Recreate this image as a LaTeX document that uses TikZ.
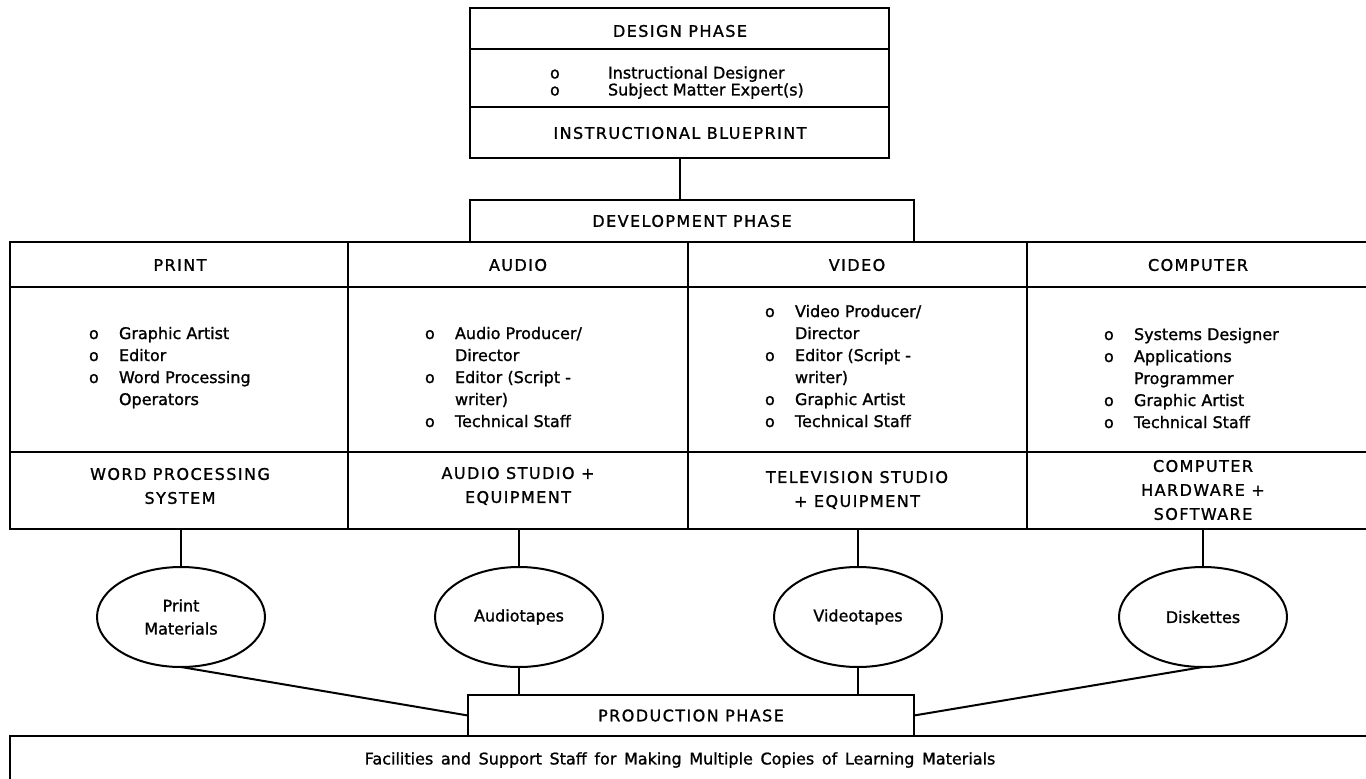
\documentclass[tikz,border=0pt]{standalone}
\usepackage{fontspec}
\setmainfont[FakeBold=1.2,AutoFakeBold=1.2]{DejaVu Sans}
\newfontfamily\capsfont[LetterSpace=9,FakeBold=1.2]{DejaVu Sans}
\newfontfamily\widefont[WordSpace=1.5,FakeBold=1.2]{DejaVu Sans}
\usetikzlibrary{shapes.geometric}

\begin{document}
\begin{tikzpicture}[x=1pt,y=-1pt,line width=2pt,
  every node/.style={inner sep=0pt,outer sep=0pt,font=\fontsize{16}{22}\selectfont},
  heading/.style={font=\capsfont\fontsize{16}{24}\selectfont,align=center},
  frame/.style={draw,rectangle,heading},
  stafflist/.style={anchor=base west,align=left},
  media/.style={draw,ellipse,minimum width=168pt,minimum height=100pt,align=center,
    font=\fontsize{16}{23}\selectfont}]

\fill[white] (0,0) rectangle (1366,779);
\useasboundingbox (0,0) rectangle (1366,779);

% ---------- design phase ----------
\node[frame,minimum width=419pt,minimum height=150pt] (design) at (679.5,83) {};
\draw (470,49) -- (889,49);
\draw (470,107) -- (889,107);
\node[heading] (designtitle) at (680,31) {DESIGN PHASE};
\node[stafflist,font=\fontsize{16}{16}\selectfont] (designstaff) at (550,78.5)
  {\begin{tabular}[t]{@{}p{58pt}@{}l@{}}
    o & Instructional Designer\\
    o & Subject Matter Expert(s)
  \end{tabular}};
\node[heading] (blueprint) at (680,133) {INSTRUCTIONAL BLUEPRINT};

% ---------- development phase ----------
\node[frame,minimum width=444pt,minimum height=42pt] (dev) at (692,221) {DEVELOPMENT PHASE};
\draw (design.south) -- (design.south |- dev.north);

% the four media columns (open on the right)
\draw (1366,242) -- (10,242) -- (10,529) -- (1366,529);
\draw (10,287) -- (1366,287);
\draw (10,452) -- (1366,452);
\draw (348,242) -- (348,529);
\draw (688,242) -- (688,529);
\draw (1027,242) -- (1027,529);

\node[heading] (printhead) at (180,265) {PRINT};
\node[heading] (audiohead) at (518,265) {AUDIO};
\node[heading] (videohead) at (857,265) {VIDEO};
\node[heading] (comphead) at (1198,265) {COMPUTER};

\node[stafflist] (printstaff) at (89,339)
  {\begin{tabular}[t]{@{}p{30pt}@{}l@{}}
    o & Graphic Artist\\
    o & Editor\\
    o & Word Processing\\
      & Operators
  \end{tabular}};
\node[stafflist] (audiostaff) at (425,339)
  {\begin{tabular}[t]{@{}p{30pt}@{}l@{}}
    o & Audio Producer/\\
      & Director\\
    o & Editor (Script -\\
      & writer)\\
    o & Technical Staff
  \end{tabular}};
\node[stafflist] (videostaff) at (765,317)
  {\begin{tabular}[t]{@{}p{30pt}@{}l@{}}
    o & Video Producer/\\
      & Director\\
    o & Editor (Script -\\
      & writer)\\
    o & Graphic Artist\\
    o & Technical Staff
  \end{tabular}};
\node[stafflist] (compstaff) at (1104,340)
  {\begin{tabular}[t]{@{}p{30pt}@{}l@{}}
    o & Systems Designer\\
    o & Applications\\
      & Programmer\\
    o & Graphic Artist\\
    o & Technical Staff
  \end{tabular}};

\node[heading] (printeq) at (180,486) {WORD PROCESSING\\SYSTEM};
\node[heading] (audioeq) at (518,486) {AUDIO STUDIO +\\EQUIPMENT};
\node[heading] (videoeq) at (857,490) {TELEVISION STUDIO\\+ EQUIPMENT};
\node[heading] (compeq) at (1203,490) {COMPUTER\\HARDWARE +\\SOFTWARE};

% ---------- products ----------
\node[media] (printmedia) at (181,617) {Print\\Materials};
\node[media] (audiomedia) at (519,617) {Audiotapes};
\node[media] (videomedia) at (858,617) {Videotapes};
\node[media] (diskmedia) at (1203,617) {Diskettes};

\coordinate (printbase) at (181,529);
\coordinate (audiobase) at (519,529);
\coordinate (videobase) at (858,529);
\coordinate (compbase) at (1203,529);
\draw (printbase) -- (printmedia.north);
\draw (audiobase) -- (audiomedia.north);
\draw (videobase) -- (videomedia.north);
\draw (compbase) -- (diskmedia.north);

% ---------- production phase ----------
\node[frame,minimum width=446pt,minimum height=41pt] (prod) at (691,715.5) {PRODUCTION PHASE};
\draw (printmedia.south) -- (prod.west);
\draw (diskmedia.south) -- (prod.east);
\draw (audiomedia.south) -- (audiomedia.south |- prod.north);
\draw (videomedia.south) -- (videomedia.south |- prod.north);

\draw (10,779) -- (10,736) -- (1366,736);
\node[font=\widefont\fontsize{16}{22}\selectfont] (facilities) at (680,760)
  {Facilities and Support Staff for Making Multiple Copies of Learning Materials};

\end{tikzpicture}
\end{document}
